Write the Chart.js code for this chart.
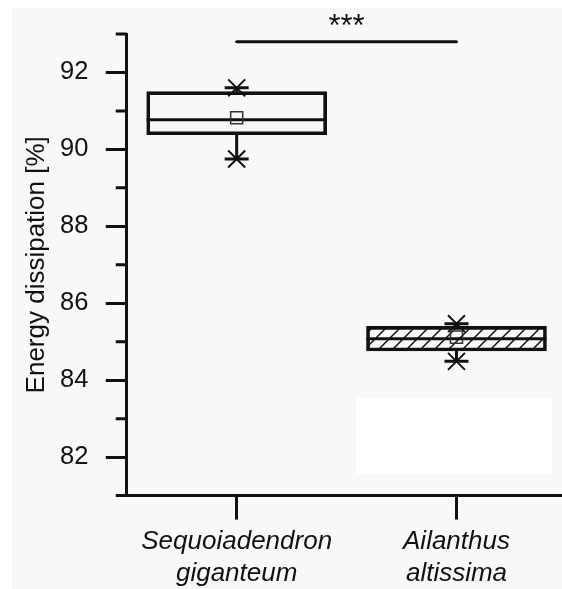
<!DOCTYPE html>
<html>
<head>
<meta charset="utf-8">
<script src="https://cdn.jsdelivr.net/npm/chart.js@4/dist/chart.umd.min.js"></script>
<style>
  html, body { margin: 0; padding: 0; background: #fff; }
  #wrap { width: 562px; height: 589px; }
</style>
</head>
<body>
<div id="wrap"><canvas id="energyChart" width="562" height="589"></canvas></div>
<script>
// species on the x axis (two label lines each)
const categories = [['Sequoiadendron', 'giganteum'], ['Ailanthus', 'altissima']];

// box statistics per species
const q1 = [90.38, 84.76];
const q3 = [91.50, 85.40];
const medians = [90.77, 85.08];
const means = [90.82, 85.12];
const mins = [89.75, 84.49];
const maxs = [91.60, 85.47];

// y axis
const yMin = 81;
const yMax = 93;
const yLabelStep = 2;

// significance bracket between the two species
const sigLevel = 92.8;
const sigText = '***';

const FONT = '"Liberation Sans", Arial, sans-serif';
const INK = '#111';

// diagonal hatch for the second box
function hatch() {
  const c = document.createElement('canvas');
  c.width = 14; c.height = 14;
  const g = c.getContext('2d');
  g.strokeStyle = INK;
  g.lineWidth = 1.5;
  g.beginPath();
  g.moveTo(0, 14); g.lineTo(14, 0);
  g.moveTo(-2, 2); g.lineTo(2, -2);
  g.moveTo(12, 16); g.lineTo(16, 12);
  g.stroke();
  return g.createPattern(c, 'repeat');
}

const pts = (arr) => arr.map((v, i) => ({ x: i, y: v }));

const boxExtras = {
  id: 'boxExtras',
  beforeDraw(chart) {
    const { ctx, width, height } = chart;
    ctx.save();
    ctx.fillStyle = '#f8f8f8';
    ctx.fillRect(12, 8, width - 12, height - 8);
    ctx.restore();
  },
  beforeDatasetsDraw(chart) {
    // blank panel in the lower right of the plot
    const { ctx, scales: { x, y } } = chart;
    const l = x.getPixelForValue(0.543), r = x.getPixelForValue(1.435);
    const t = y.getPixelForValue(83.54), b = y.getPixelForValue(81.57);
    ctx.save();
    ctx.fillStyle = '#ffffff';
    ctx.beginPath();
    ctx.roundRect(l, t, r - l, b - t, 2);
    ctx.fill();
    ctx.restore();
  },
  afterDatasetDraw(chart, args) {
    if (args.index !== 0) return;
    const { ctx, scales: { x, y } } = chart;
    const bars = args.meta.data;
    ctx.save();
    ctx.strokeStyle = INK;
    ctx.lineWidth = 3;
    categories.forEach((c, i) => {
      const px = x.getPixelForValue(i);
      const half = bars[i].width / 2;
      ctx.beginPath();
      // whiskers
      ctx.moveTo(px, y.getPixelForValue(q3[i]));
      ctx.lineTo(px, y.getPixelForValue(maxs[i]));
      ctx.moveTo(px, y.getPixelForValue(q1[i]));
      ctx.lineTo(px, y.getPixelForValue(mins[i]));
      // median
      const my = y.getPixelForValue(medians[i]);
      ctx.moveTo(px - half, my);
      ctx.lineTo(px + half, my);
      ctx.stroke();
    });
    ctx.restore();
  },
  afterDraw(chart) {
    const { ctx, chartArea, scales: { x, y } } = chart;
    ctx.save();
    ctx.strokeStyle = INK;
    ctx.lineWidth = 3;
    // short minor ticks on the y axis
    ctx.beginPath();
    y.ticks.forEach(t => {
      if (t.value % yLabelStep === 0) return;
      const py = y.getPixelForValue(t.value);
      ctx.moveTo(chartArea.left - 11, py);
      ctx.lineTo(chartArea.left, py);
    });
    ctx.stroke();
    // significance bracket
    const sy = y.getPixelForValue(sigLevel);
    const x0 = x.getPixelForValue(0), x1 = x.getPixelForValue(1);
    ctx.lineCap = 'round';
    ctx.beginPath();
    ctx.moveTo(x0, sy);
    ctx.lineTo(x1, sy);
    ctx.stroke();
    ctx.fillStyle = INK;
    ctx.font = '31px ' + FONT;
    ctx.textAlign = 'center';
    ctx.textBaseline = 'alphabetic';
    ctx.fillText(sigText, (x0 + x1) / 2, sy - 6);
    ctx.restore();
  }
};

new Chart(document.getElementById('energyChart'), {
  type: 'bar',
  data: {
    datasets: [{
      type: 'bar',
      data: categories.map((c, i) => ({ x: i, y: [q1[i], q3[i]] })),
      backgroundColor: ['rgba(0,0,0,0)', hatch()],
      borderColor: INK,
      borderWidth: 3,
      borderSkipped: false,
      barThickness: 180,
      order: 3
    }, {
      type: 'scatter',
      data: pts(maxs).concat(pts(mins)),
      pointStyle: 'line',
      pointRadius: 12,
      borderColor: INK,
      borderWidth: 3,
      order: 2
    }, {
      type: 'scatter',
      data: pts(maxs).concat(pts(mins)),
      pointStyle: 'crossRot',
      pointRadius: 12,
      borderColor: INK,
      borderWidth: 2,
      order: 1
    }, {
      type: 'scatter',
      data: pts(means),
      pointStyle: 'rect',
      pointRadius: 8.5,
      borderColor: '#333',
      backgroundColor: 'rgba(0,0,0,0)',
      borderWidth: 1.5,
      order: 0
    }]
  },
  options: {
    responsive: false,
    animation: false,
    layout: { autoPadding: false, padding: { left: 17.4, top: 34, right: 0, bottom: -7 } },
    plugins: { legend: { display: false }, tooltip: { enabled: false } },
    scales: {
      x: {
        type: 'linear',
        min: -0.5,
        max: 1.48,
        offset: false,
        afterBuildTicks: (scale) => { scale.ticks = categories.map((c, i) => ({ value: i })); },
        ticks: {
          autoSkip: false,
          maxRotation: 0,
          padding: 7,
          color: INK,
          font: { family: FONT, size: 26, style: 'italic', lineHeight: 1.2 },
          callback: (v) => categories[v]
        },
        grid: { offset: false, drawOnChartArea: false, tickLength: 24, tickWidth: 3, tickColor: INK },
        border: { color: INK, width: 3 }
      },
      y: {
        min: yMin,
        max: yMax,
        ticks: {
          stepSize: 1,
          padding: 17.4,
          color: INK,
          font: { family: FONT, size: 25.5 },
          callback: (v) => (v % yLabelStep === 0 ? String(v) : '')
        },
        grid: {
          drawOnChartArea: false,
          tickLength: 21,
          tickWidth: 3,
          tickColor: (ctx) => (ctx.tick && ctx.tick.value % yLabelStep === 0 ? INK : 'rgba(0,0,0,0)')
        },
        border: { color: INK, width: 3 },
        title: {
          display: true,
          text: 'Energy dissipation [%]',
          color: INK,
          font: { family: FONT, size: 26 },
          padding: { top: 4, bottom: -10 }
        }
      }
    }
  },
  plugins: [boxExtras]
});
</script>
</body>
</html>
